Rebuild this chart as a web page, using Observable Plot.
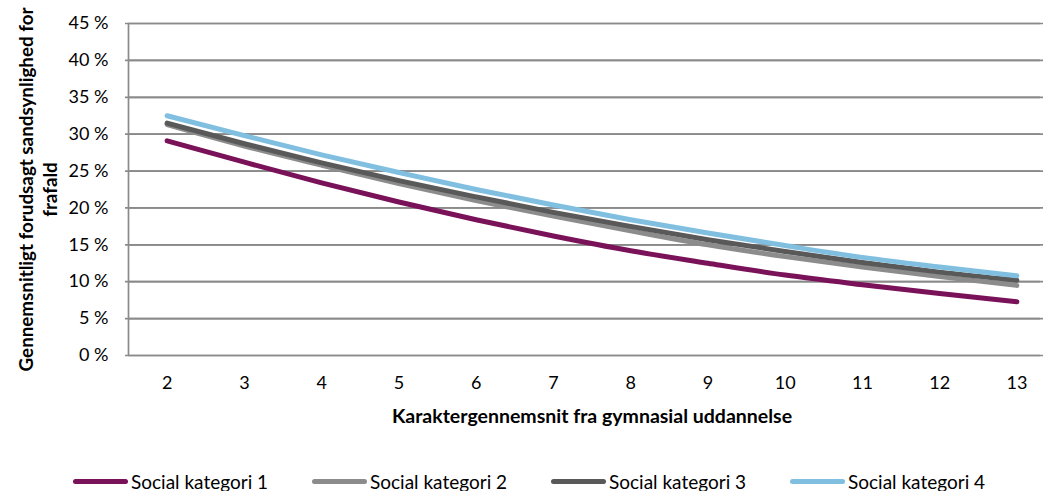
<!DOCTYPE html>
<html>
<head>
<meta charset="utf-8">
<script src="https://cdn.jsdelivr.net/npm/d3@7"></script>
<script src="https://cdn.jsdelivr.net/npm/@observablehq/plot@0.6"></script>
<style>
  html, body { margin: 0; padding: 0; background: #fff; overflow: hidden; }
  #wrap { position: relative; width: 1043px; height: 491px; font-family: Lato, "Open Sans", sans-serif; }
  #legend { position: absolute; left: 73px; top: 470px; display: flex; }
  .item { display: flex; align-items: center; width: 239px; font-size: 19px; line-height: 23px; color: #000; white-space: nowrap; }
  .sw { width: 55px; height: 5px; border-radius: 3px; margin-right: 3px; }
</style>
</head>
<body>
<div id="wrap"><div id="chart"></div><div id="legend"></div></div>
<script>
const grades = [2, 3, 4, 5, 6, 7, 8, 9, 10, 11, 12, 13];
const seriesNames = ["Social kategori 1", "Social kategori 2", "Social kategori 3", "Social kategori 4"];
const seriesColors = ["#7a1259", "#8c8c8c", "#595959", "#80bfe0"];
const kat1 = [29.1, 26.2, 23.4, 20.8, 18.4, 16.2, 14.2, 12.5, 10.9, 9.6, 8.4, 7.3];
const kat2 = [31.3, 28.4, 25.8, 23.3, 21.0, 18.9, 16.9, 15.0, 13.4, 12.0, 10.7, 9.5];
const kat3 = [31.5, 28.7, 26.1, 23.7, 21.5, 19.4, 17.5, 15.7, 14.1, 12.6, 11.3, 10.2];
const kat4 = [32.5, 29.8, 27.2, 24.8, 22.5, 20.4, 18.4, 16.6, 14.9, 13.3, 12.0, 10.8];
const yTicks = [0, 5, 10, 15, 20, 25, 30, 35, 40, 45];
const yTitle = "Gennemsnitligt forudsagt sandsynlighed for\nfrafald";
const xTitle = "Karaktergennemsnit fra gymnasial uddannelse";

const allSeries = [kat1, kat2, kat3, kat4];
const data = allSeries.flatMap((vals, i) => vals.map((v, j) => ({series: seriesNames[i], grade: grades[j], value: v})));

const font = "Lato, 'Open Sans', sans-serif";
const gridColor = "#8a8a8a";
const chart = Plot.plot({
  width: 1043,
  height: 440,
  marginTop: 23,
  marginBottom: 85,
  marginLeft: 128,
  marginRight: 0,
  style: {fontFamily: font, fontSize: "18px", color: "#000", background: "#fff"},
  x: {domain: [1.5, 13.5], range: [128, 1055], axis: null},
  y: {domain: [0, 45], axis: null},
  color: {domain: seriesNames, range: seriesColors},
  marks: [
    Plot.ruleY(yTicks, {x1: 1.5, x2: 13.5, stroke: gridColor, strokeWidth: 1.7}),
    Plot.tickY(yTicks, {y: d => d, frameAnchor: "left", dx: -3, stroke: gridColor, strokeWidth: 1.7}),
    Plot.ruleX([1.5], {y1: 0, y2: 45, stroke: gridColor, strokeWidth: 1.7}),
    Plot.text(yTicks, {x: 1.5, y: d => d, dx: -20, textAnchor: "end", fontSize: 18, text: d => d + " %"}),
    Plot.text(grades, {x: d => d, y: 0, dy: 28, fontSize: 18, text: d => String(d)}),
    Plot.lineY(data, {x: "grade", y: "value", z: "series", stroke: "series", strokeWidth: 5, strokeLinecap: "round", strokeLinejoin: "round", curve: "monotone-x"}),
    Plot.text([xTitle], {frameAnchor: "bottom", x: 7.5, dy: 67, fontWeight: "bold", fontSize: 19.5, text: d => d}),
    Plot.text([yTitle], {frameAnchor: "left", y: 22.5, dx: -91, rotate: -90, fontWeight: "bold", fontSize: 18.8, lineHeight: 1.25, textAnchor: "middle", lineAnchor: "middle", text: d => d})
  ]
});
document.getElementById("chart").appendChild(chart);

const legend = document.getElementById("legend");
seriesNames.forEach((name, i) => {
  const item = document.createElement("div");
  item.className = "item";
  const sw = document.createElement("div");
  sw.className = "sw";
  sw.style.background = seriesColors[i];
  const label = document.createElement("span");
  label.textContent = name;
  item.appendChild(sw);
  item.appendChild(label);
  legend.appendChild(item);
});
</script>
</body>
</html>
